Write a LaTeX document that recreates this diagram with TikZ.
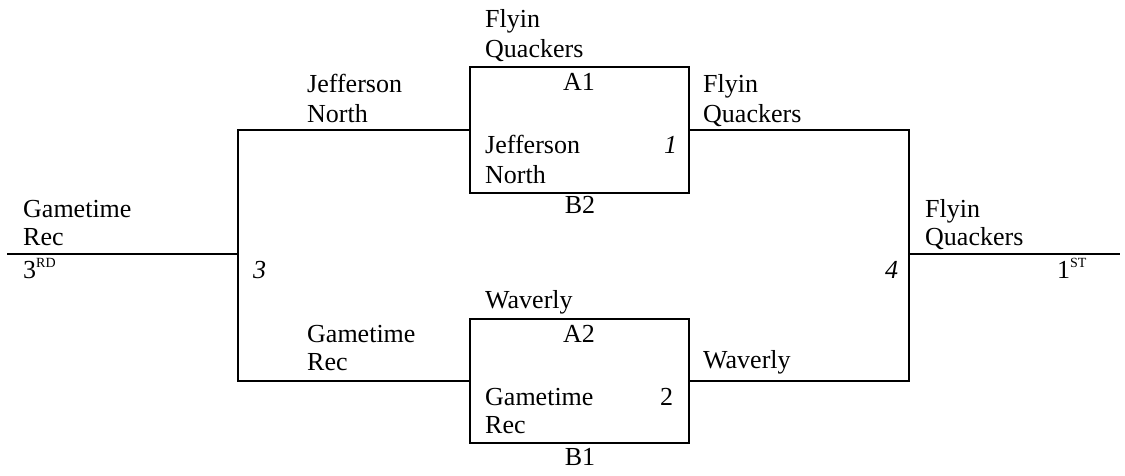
\documentclass[tikz,border=0pt]{standalone}
\usepackage{fontspec}
\setmainfont{Liberation Serif}
\newcommand{\supr}[1]{\raisebox{11pt}{\fontsize{14}{14}\selectfont #1}}
\begin{document}
\begin{tikzpicture}[x=1pt,y=-1pt,
  txt/.style={anchor=base west, inner sep=0pt, font=\fontsize{26}{30}\selectfont},
  txtc/.style={anchor=base, inner sep=0pt, font=\fontsize{26}{30}\selectfont},
  matchbox/.style={draw, line width=2pt, rectangle, minimum width=219pt, minimum height=126pt, inner sep=0pt},
  conn/.style={line width=2pt}]
\useasboundingbox (0,0) rectangle (1125,475);
% boxes
\node[matchbox] (m1) at (579.5,130) {};
\node[matchbox, minimum height=124pt] (m2) at (579.5,381) {};
% coordinates
\coordinate (lt) at (238,130);
\coordinate (lb) at (238,381);
\coordinate (lm) at (238,254);
\coordinate (ls) at (7,254);
\coordinate (rt) at (909,130);
\coordinate (rb) at (909,381);
\coordinate (rm) at (909,254);
\coordinate (re) at (1120,254);
% connectors
\draw[conn] (m1.west) -- (lt) -- (lb) -- (m2.west);
\draw[conn] (ls) -- (lm);
\draw[conn] (m1.east) -- (rt) -- (rb) -- (m2.east);
\draw[conn] (rm) -- (re);
% left labels
\node[txt] (l1) at (23,217) {Gametime};
\node[txt] (l2) at (23,245) {Rec};
\node[txt] (l3) at (23,278) {3\supr{RD}};
\node[txt] (n3) at (253,278) {\itshape 3};
\node[txt] (a1) at (307,92) {Jefferson};
\node[txt] (a2) at (307,122) {North};
\node[txt] (b1) at (307,342) {Gametime};
\node[txt] (b2) at (307,370) {Rec};
% box 1
\node[txt] (t1) at (485,27) {Flyin};
\node[txt] (t2) at (485,57) {Quackers};
\node[txtc] (A1) at (579,90) {A1};
\node[txt] (t3) at (485,153) {Jefferson};
\node[txt] (t4) at (485,183) {North};
\node[txt] (n1) at (664,153) {\itshape 1};
\node[txtc] (B2) at (580,213) {B2};
% box 2
\node[txt] (u1) at (485,308) {Waverly};
\node[txtc] (A2) at (579,342) {A2};
\node[txt] (u2) at (485,405) {Gametime};
\node[txt] (u3) at (485,433) {Rec};
\node[txt] (n2) at (660,405) {2};
\node[txtc] (B1) at (580,465) {B1};
% right side
\node[txt] (r1) at (703,92) {Flyin};
\node[txt] (r2) at (703,122) {Quackers};
\node[txt] (r3) at (703,368) {Waverly};
\node[txt] (f1) at (925,217) {Flyin};
\node[txt] (f2) at (925,245) {Quackers};
\node[txt] (n4) at (885,278) {\itshape 4};
\node[txt] (f3) at (1057,278) {1\supr{ST}};
\end{tikzpicture}
\end{document}
